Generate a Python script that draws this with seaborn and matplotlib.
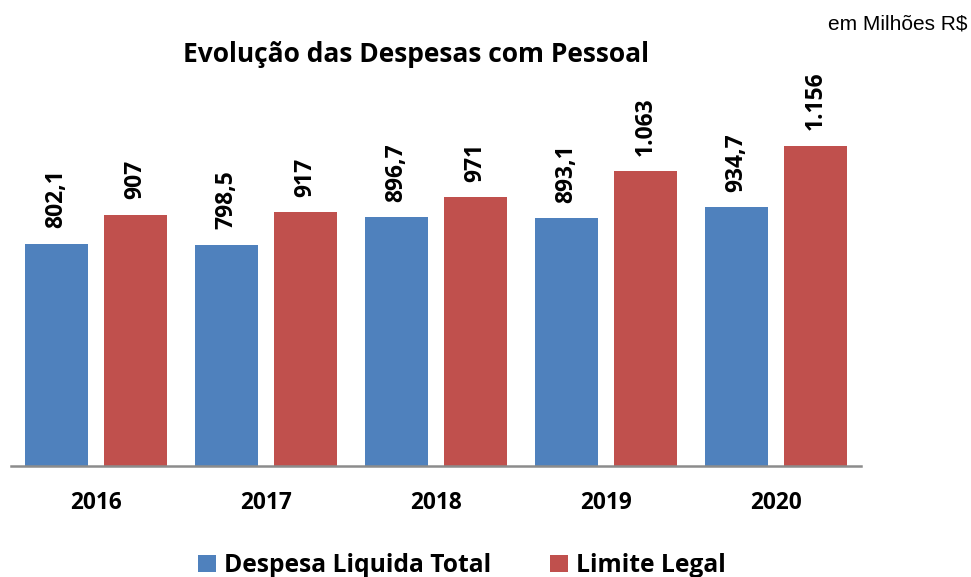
import matplotlib
matplotlib.use("Agg")
import matplotlib.pyplot as plt
from matplotlib.patches import Patch
import seaborn as sns
import pandas as pd

# Values in millions of R$
anos = ["2016", "2017", "2018", "2019", "2020"]
despesa_liquida = [802.1, 798.5, 896.7, 893.1, 934.7]
limite_legal = [907, 917, 971, 1063, 1156]
series = ["Despesa Liquida Total", "Limite Legal"]
cores = ["#4F81BD", "#C0504D"]


def fmt_decimal(v):
    return f"{v:.1f}".replace(".", ",")


def fmt_inteiro(v):
    return f"{v:,.0f}".replace(",", ".")


df = pd.DataFrame({
    "Ano": anos * 2,
    "Valor": despesa_liquida + limite_legal,
    "Serie": [series[0]] * len(anos) + [series[1]] * len(anos),
})

sns.set_theme(style="white")
plt.rcParams["font.family"] = ["Open Sans", "DejaVu Sans"]
plt.rcParams["text.color"] = "black"
plt.rcParams["xtick.color"] = "black"

fig = plt.figure(figsize=(9.71, 5.77), dpi=100)
ax = fig.add_axes([0.0113, 0.1924, 0.8754, 0.6724])

sns.barplot(data=df, x="Ano", y="Valor", hue="Serie", hue_order=series,
            palette=cores, saturation=1, width=0.93, gap=0.204,
            linewidth=0, legend=False, ax=ax, errorbar=None)

rotulos = [[fmt_decimal(v) for v in despesa_liquida],
           [fmt_inteiro(v) for v in limite_legal]]
for cont, labs in zip(ax.containers, rotulos):
    ax.bar_label(cont, labels=labs, rotation=90, padding=11,
                 fontsize=16.5, fontweight="bold", color="black")

ax.set_xlim(-0.5, 4.5)
ax.set_ylim(0, 1400)
ax.set_xlabel("")
ax.set_ylabel("")
ax.set_yticks([])
for s in ["top", "left", "right"]:
    ax.spines[s].set_visible(False)
ax.spines["bottom"].set_color("#8C8C8C")
ax.spines["bottom"].set_linewidth(1.8)
ax.tick_params(axis="x", length=0, pad=18)
for t in ax.get_xticklabels():
    t.set_fontsize(16.3)
    t.set_fontweight("bold")
    t.set_color("black")

fig.text(0.4284, 0.9047, "Evolução das Despesas com Pessoal",
         ha="center", va="center", fontsize=19, fontweight="bold",
         color="black")
fig.text(0.996, 0.958, "em Milhões R$", ha="right", va="center",
         fontsize=15, color="black",
         family=["Liberation Sans", "DejaVu Sans"])

handles = [Patch(facecolor=c, edgecolor="none") for c in cores]
fig.legend(handles, series, loc="center", bbox_to_anchor=(0.476, 0.02),
           ncol=2, frameon=False, handlelength=0.7, handleheight=0.7,
           handletextpad=0.35, columnspacing=2.4,
           prop={"size": 17.7, "weight": "bold"})

fig.savefig("out.png", dpi=100)
